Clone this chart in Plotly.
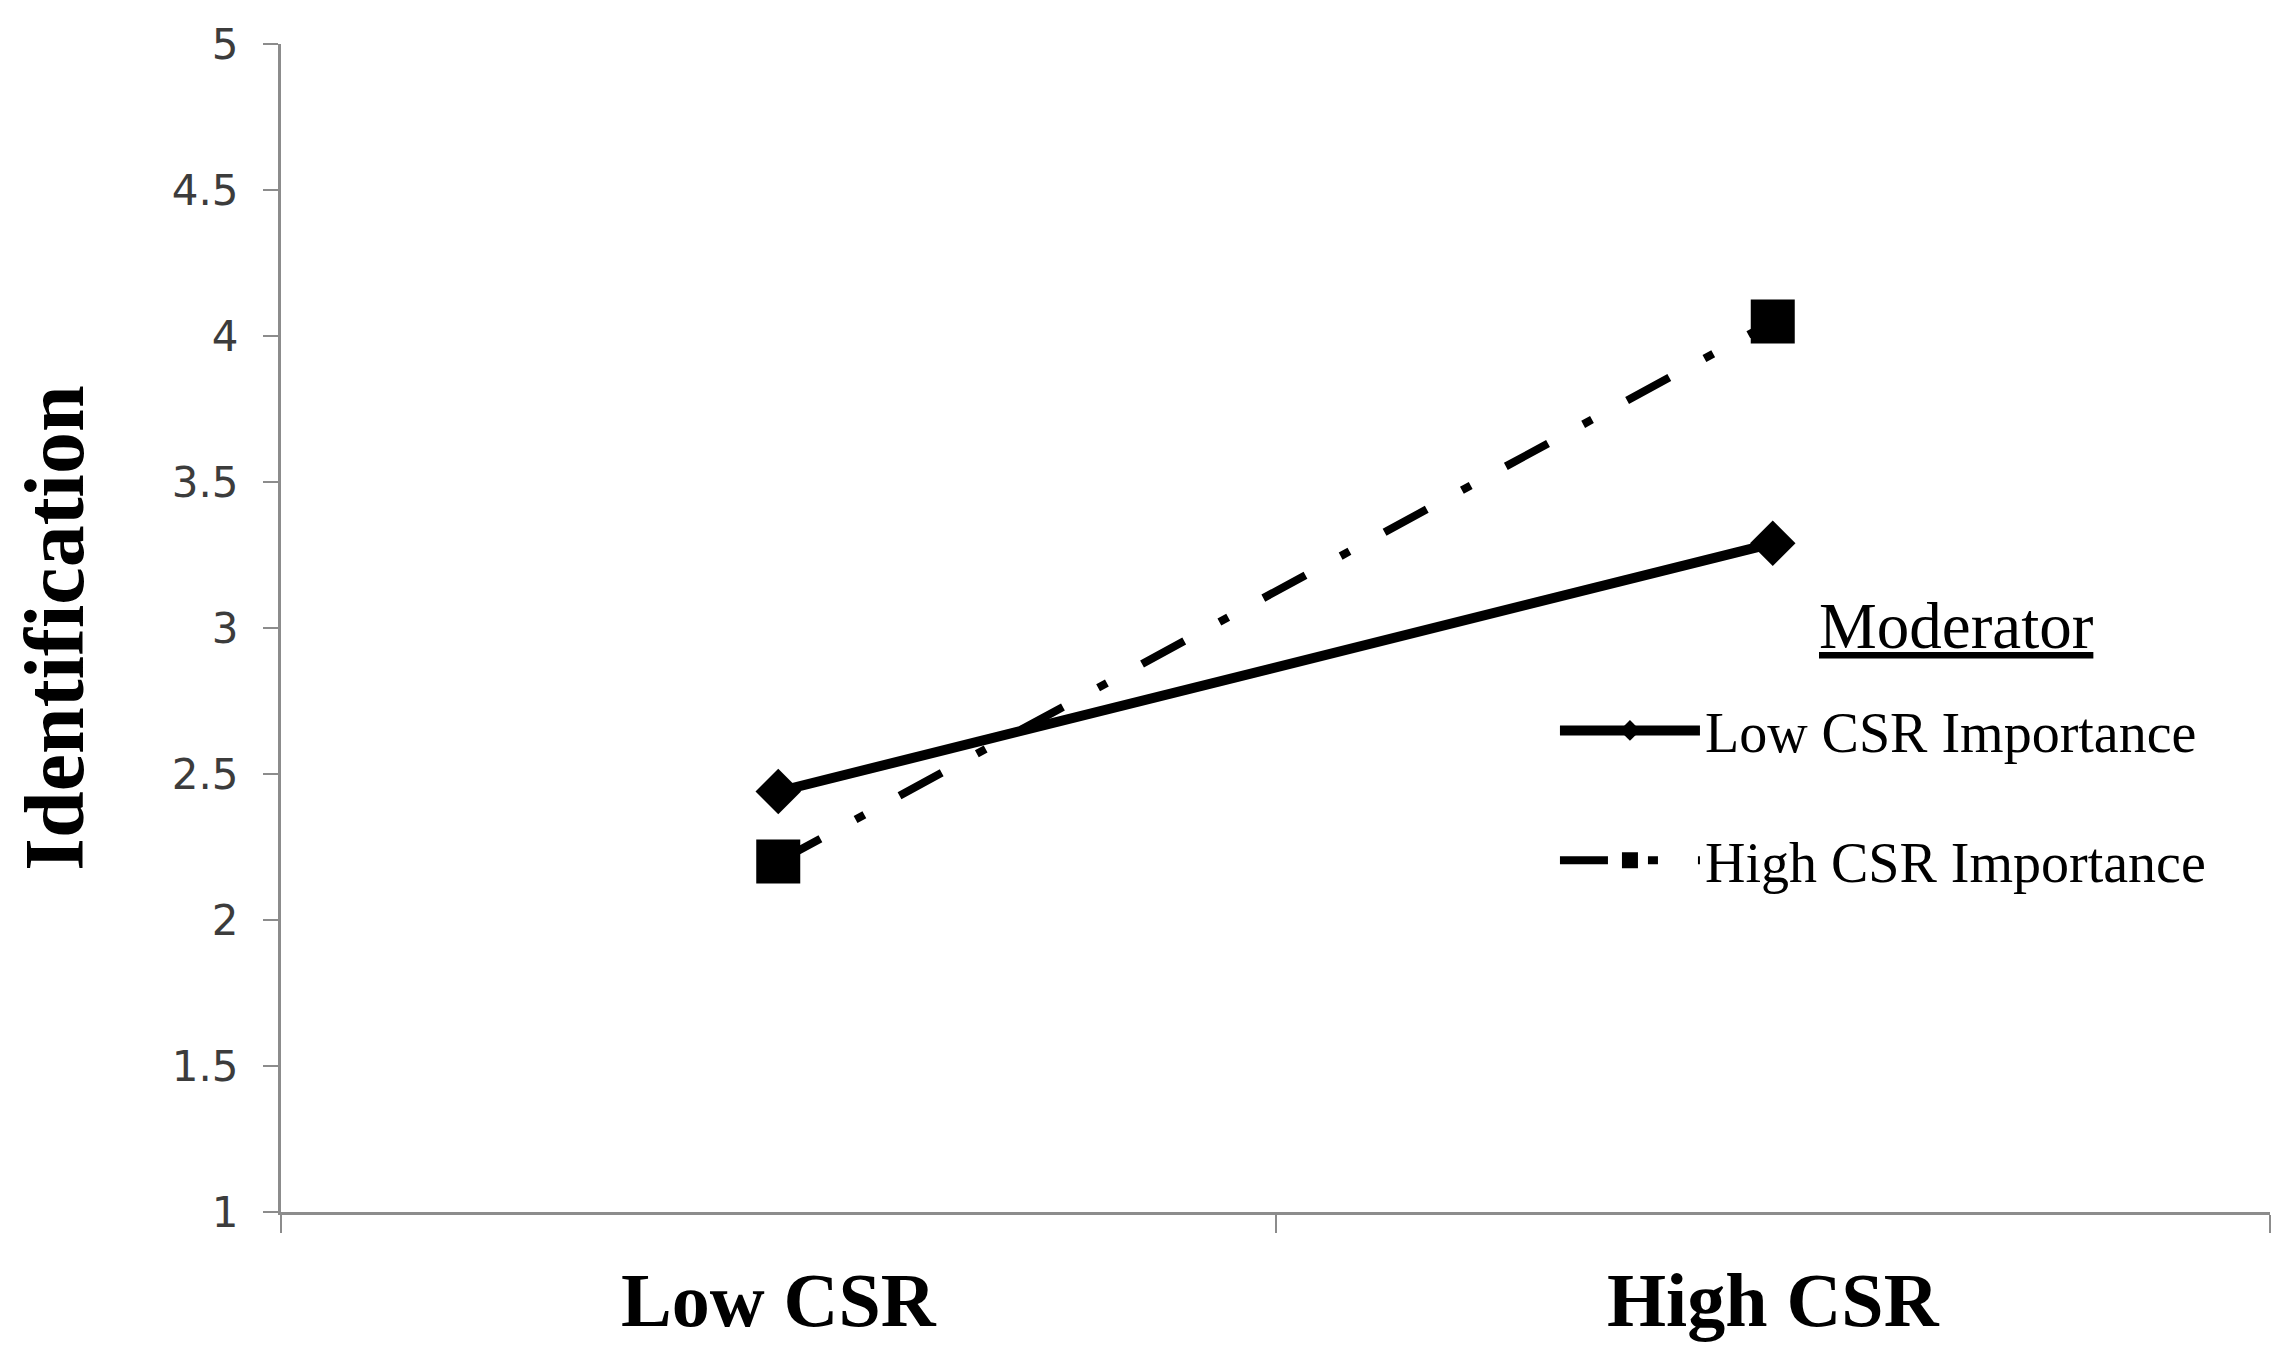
import plotly.graph_objects as go

# values
categories = ["Low CSR", "High CSR"]
low_importance = [2.44, 3.29]
high_importance = [2.20, 4.05]
y_ticks = [1, 1.5, 2, 2.5, 3, 3.5, 4, 4.5, 5]
y_tick_labels = ["1", "1.5", "2", "2.5", "3", "3.5", "4", "4.5", "5"]

serif = "Liberation Serif, Times New Roman, serif"

fig = go.Figure()

fig.add_trace(go.Scatter(
    x=categories, y=low_importance, name="Low CSR Importance",
    mode="lines+markers", legendgroup="a",
    line=dict(color="black", width=10),
    marker=dict(symbol="diamond", size=35, color="black"),
))
fig.add_trace(go.Scatter(
    x=categories, y=high_importance, name="High CSR Importance",
    mode="lines+markers", legendgroup="b",
    line=dict(color="black", width=8, dash="48px,40px,10px,40px"),
    marker=dict(symbol="square", size=44, color="black"),
))

fig.update_layout(
    width=2288, height=1360,
    paper_bgcolor="white", plot_bgcolor="white",
    margin=dict(l=273, r=26, t=26, b=156),
    showlegend=True,
    legend=dict(
        x=0.6405, xanchor="left", y=0.449, yanchor="top",
        font=dict(family=serif, size=56, color="black"),
        itemwidth=140, tracegroupgap=54, traceorder="grouped",
        bgcolor="rgba(0,0,0,0)",
    ),
    # legend heading drawn as an underlined note above the entries
    annotations=[dict(
        text="<span style='text-decoration:underline'>Moderator</span>",
        xref="paper", yref="paper", x=0.8425, y=0.502,
        xanchor="center", yanchor="middle", showarrow=False,
        font=dict(family=serif, size=65, color="black"),
    )],
)

fig.update_xaxes(
    type="category", range=[-0.5, 1.5],
    showline=True, linecolor="#8c8c8c", linewidth=3,
    ticks="outside", tickson="boundaries", ticklen=18, tickcolor="#8c8c8c", tickwidth=2,
    tickfont=dict(family=serif, size=76, color="black"),
    ticklabelstandoff=20,
    showgrid=False, zeroline=False,
    tickprefix="<b>", ticksuffix="</b>",
)
fig.update_yaxes(
    range=[1, 5], tickvals=y_ticks, ticktext=y_tick_labels,
    showline=True, linecolor="#8c8c8c", linewidth=3,
    ticks="outside", ticklen=15, tickcolor="#8c8c8c", tickwidth=2,
    tickfont=dict(family="DejaVu Sans, Verdana, sans-serif", size=42, color="#3c3c3c"),
    ticklabelstandoff=16,
    showgrid=False, zeroline=False,
    title=dict(text="<b>Identification</b>", standoff=62,
               font=dict(family=serif, size=84, color="black")),
)

fig.write_html("out.html")
